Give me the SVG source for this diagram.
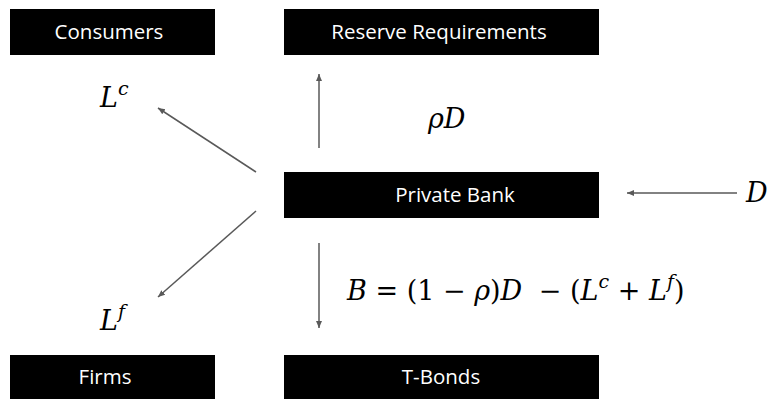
<svg xmlns="http://www.w3.org/2000/svg" width="771" height="399" viewBox="0 0 771 399">
<defs>
<style>
.box{fill:#000}
.lbl{fill:#fff;font-family:"Open Sans","Liberation Sans",sans-serif;font-size:20.5px;text-anchor:middle}
.math{fill:#000;font-family:"DejaVu Serif","Liberation Serif",serif;font-size:27px}
.it{font-style:italic}
.conn{stroke:#595959;stroke-width:1.5;fill:none;marker-end:url(#ah)}
</style>
<marker id="ah" markerUnits="userSpaceOnUse" markerWidth="8" markerHeight="8" refX="7" refY="4" orient="auto">
<path d="M0,1 L7,4 L0,7 Z" fill="#595959"/>
</marker>
</defs>
<rect width="771" height="399" fill="#fff"/>
<g id="consumers"><rect class="box" x="10" y="9" width="205" height="46"/><text class="lbl" x="109" y="39">Consumers</text></g>
<g id="reserve"><rect class="box" x="284" y="9" width="315" height="46"/><text class="lbl" x="439" y="39">Reserve Requirements</text></g>
<g id="bank"><rect class="box" x="284" y="172" width="315" height="46"/><text class="lbl" x="455" y="202">Private Bank</text></g>
<g id="firms"><rect class="box" x="10" y="355" width="205" height="44"/><text class="lbl" x="105" y="384">Firms</text></g>
<g id="tbonds"><rect class="box" x="284" y="355" width="315" height="44"/><text class="lbl" x="441" y="384">T-Bonds</text></g>
<g id="connectors">
<line class="conn" x1="256" y1="172" x2="158" y2="108"/>
<line class="conn" x1="256" y1="211" x2="158" y2="297"/>
<line class="conn" x1="319" y1="148" x2="319" y2="74"/>
<line class="conn" x1="319" y1="243" x2="319" y2="328"/>
<line class="conn" x1="737" y1="193" x2="627" y2="193"/>
</g>
<g id="labels">
<text class="math" x="100" y="107"><tspan class="it">L</tspan><tspan class="it" font-size="19" dy="-12">c</tspan></text>
<text class="math" x="428" y="128"><tspan class="it">ρD</tspan></text>
<text class="math" x="746" y="202"><tspan class="it">D</tspan></text>
<text class="math" x="100" y="330"><tspan class="it">L</tspan><tspan class="it" font-size="19" dy="-12">f</tspan></text>
<text class="math" x="347" y="300"><tspan class="it">B</tspan> = (1 − <tspan class="it">ρ</tspan>)<tspan class="it">D</tspan><tspan dx="8"> − (</tspan><tspan class="it">L</tspan><tspan class="it" font-size="19" dy="-12">c</tspan><tspan dy="12"> + </tspan><tspan class="it">L</tspan><tspan class="it" font-size="19" dy="-12">f</tspan><tspan dy="12">)</tspan></text>
</g>
</svg>
